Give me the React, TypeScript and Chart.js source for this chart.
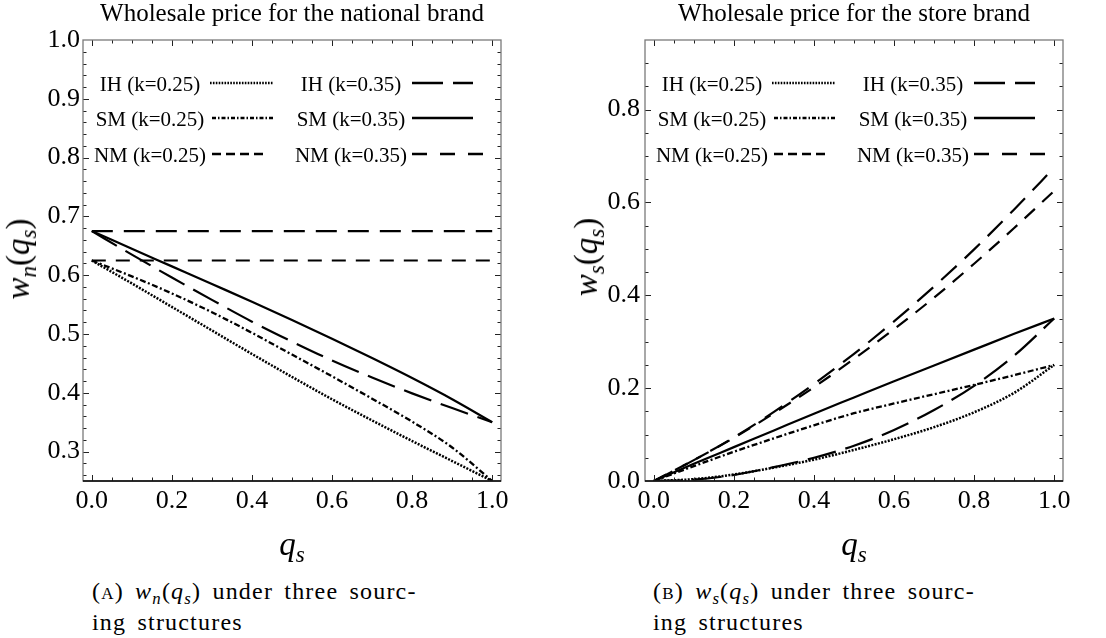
import React, { useEffect, useRef } from "react";
import { Chart, registerables } from "chart.js";

Chart.register(...registerables);

// ---------------- data ----------------
const qs = [0, 0.1, 0.2, 0.3, 0.4, 0.5, 0.6, 0.7, 0.8, 0.9, 1.0];

// (A) wholesale price for the national brand, w_n(q_s)
const wnIH25 = [0.625, 0.586, 0.546, 0.506, 0.466, 0.427, 0.389, 0.353, 0.318, 0.284, 0.25];
const wnSM25 = [0.625, 0.598, 0.569, 0.537, 0.502, 0.465, 0.428, 0.39, 0.351, 0.307, 0.25];
const wnNM25 = [0.625, 0.625, 0.625, 0.625, 0.625, 0.625, 0.625, 0.625, 0.625, 0.625, 0.625];
const wnIH35 = [0.675, 0.635, 0.596, 0.558, 0.521, 0.487, 0.455, 0.426, 0.399, 0.374, 0.35];
const wnSM35 = [0.675, 0.645, 0.615, 0.585, 0.555, 0.524, 0.492, 0.459, 0.425, 0.389, 0.35];
const wnNM35 = [0.675, 0.675, 0.675, 0.675, 0.675, 0.675, 0.675, 0.675, 0.675, 0.675, 0.675];

// (B) wholesale price for the store brand, w_s(q_s)
const wsIH25 = [0, 0.004, 0.014, 0.029, 0.046, 0.067, 0.09, 0.116, 0.148, 0.19, 0.25];
const wsSM25 = [0, 0.032, 0.063, 0.092, 0.12, 0.146, 0.167, 0.187, 0.207, 0.228, 0.25];
const wsNM25 = [0, 0.045, 0.093, 0.146, 0.202, 0.263, 0.327, 0.395, 0.468, 0.545, 0.625];
const wsIH35 = [0, 0.003, 0.013, 0.03, 0.05, 0.076, 0.11, 0.153, 0.205, 0.27, 0.35];
const wsSM35 = [0, 0.037, 0.073, 0.109, 0.145, 0.18, 0.215, 0.249, 0.283, 0.317, 0.35];
const wsNM35 = [0, 0.045, 0.094, 0.149, 0.209, 0.274, 0.344, 0.419, 0.499, 0.585, 0.675];

const seriesLabels = [
  "IH (k=0.25)",
  "SM (k=0.25)",
  "NM (k=0.25)",
  "IH (k=0.35)",
  "SM (k=0.35)",
  "NM (k=0.35)",
];

const xTickValues = [0, 0.2, 0.4, 0.6, 0.8, 1.0];
const wnTickValues = [0.3, 0.4, 0.5, 0.6, 0.7, 0.8, 0.9, 1.0];
const wsTickValues = [0, 0.2, 0.4, 0.6, 0.8];

const titleA = "Wholesale price for the national brand";
const titleB = "Wholesale price for the store brand";

// ---------------- styles ----------------
const FONT = '"Liberation Serif", "Times New Roman", serif';
const LINE_DASH = [[2, 1.4], [6, 2.5, 2, 2.5], [14, 10], [29, 10], [], [21, 11]];
const LINE_WIDTH = [2.5, 2.3, 2.2, 2.2, 2.2, 2.2];
const LEGEND_DASH = [[1.6, 1.3], [4, 2, 1.5, 2], [9, 5], [31, 10], [], [15, 13]];
// legend layout relative to chart area (left, top)
const LEGEND_COL_CX = [67, 67, 67, 268, 268, 268];
const LEGEND_ROW_Y = [43, 78, 114, 43, 78, 114];
const LEGEND_X0 = [127, 129, 129, 329, 329, 329];
const LEGEND_X1 = [190, 190, 182, 390, 390, 400];

function range(a: number, b: number, step: number): number[] {
  const out: number[] = [];
  const n = Math.round((b - a) / step);
  for (let i = 0; i <= n; i++) out.push(+(a + i * step).toFixed(4));
  return out;
}

const frameTicksPlugin = {
  id: "frameTicks",
  afterDraw(chart: any, _args: any, opts: any) {
    const { ctx, chartArea: a, scales } = chart;
    const xs = scales.x;
    const ys = scales.y;
    const isMajor = (list: number[], v: number) => list.some((m) => Math.abs(m - v) < 1e-6);
    ctx.save();
    ctx.lineWidth = 1;
    ctx.strokeStyle = "#222";
    ctx.beginPath();
    for (const v of opts.xMinor) {
      const px = Math.round(xs.getPixelForValue(v)) + 0.5;
      const len = isMajor(opts.xMajor, v) ? 6 : 3.5;
      ctx.moveTo(px, a.bottom);
      ctx.lineTo(px, a.bottom - len);
      ctx.moveTo(px, a.top);
      ctx.lineTo(px, a.top + len);
    }
    for (const v of opts.yMinor) {
      const py = Math.round(ys.getPixelForValue(v)) + 0.5;
      if (py < a.top + 1 || py > a.bottom - 1) continue;
      const len = isMajor(opts.yMajor, v) ? 6 : 3.5;
      ctx.moveTo(a.left, py);
      ctx.lineTo(a.left + len, py);
      ctx.moveTo(a.right, py);
      ctx.lineTo(a.right - len, py);
    }
    ctx.stroke();
    ctx.strokeStyle = "#7a7a7a";
    ctx.lineWidth = 1.3;
    ctx.strokeRect(a.left, a.top, a.right - a.left, a.bottom - a.top);
    ctx.strokeStyle = "#000";
    ctx.beginPath();
    ctx.moveTo(a.left, a.bottom);
    ctx.lineTo(a.right, a.bottom);
    ctx.stroke();
    ctx.restore();
  },
};

const legendPlugin = {
  id: "gridLegend",
  afterDraw(chart: any) {
    const { ctx, chartArea: a } = chart;
    ctx.save();
    ctx.font = `21px ${FONT}`;
    ctx.textAlign = "center";
    ctx.textBaseline = "middle";
    ctx.fillStyle = "#000";
    ctx.strokeStyle = "#000";
    seriesLabels.forEach((label, i) => {
      const cy = a.top + LEGEND_ROW_Y[i];
      ctx.fillText(label, a.left + LEGEND_COL_CX[i], cy + 2);
      ctx.lineWidth = i === 0 ? 2.6 : 2.4;
      ctx.setLineDash(LEGEND_DASH[i]);
      ctx.beginPath();
      ctx.moveTo(a.left + LEGEND_X0[i], cy);
      ctx.lineTo(a.left + LEGEND_X1[i], cy);
      ctx.stroke();
    });
    ctx.restore();
  },
};

type Spec = {
  left: number;
  width: number;
  height: number;
  axisWidth: number;
  padRight: number;
  yMin: number;
  yMax: number;
  yTicks: number[];
  yMinor: number[];
  yPad: number;
  series: number[][];
};

function WholesaleChart({ spec }: { spec: Spec }) {
  const ref = useRef<HTMLCanvasElement | null>(null);
  useEffect(() => {
    if (!ref.current) return;
    const datasets = spec.series.map((arr, i) => ({
      label: seriesLabels[i],
      data: qs.map((q, j) => ({ x: q, y: arr[j] })),
      borderColor: "#000",
      borderWidth: LINE_WIDTH[i],
      borderDash: LINE_DASH[i],
      borderCapStyle: "butt" as const,
      pointRadius: 0,
      fill: false,
      cubicInterpolationMode: "monotone" as const,
    }));
    const tickFont = { family: FONT, size: 26 };
    const chart = new Chart(ref.current, {
      type: "line",
      data: { datasets },
      options: {
        animation: false,
        responsive: false,
        maintainAspectRatio: false,
        layout: { padding: { left: 0, top: 40, right: spec.padRight, bottom: spec.height - 481 - 40 } },
        plugins: {
          legend: { display: false },
          tooltip: { enabled: false },
          frameTicks: {
            xMajor: xTickValues,
            xMinor: range(0, 1, 0.05),
            yMajor: spec.yTicks,
            yMinor: spec.yMinor,
          },
        } as any,
        scales: {
          x: {
            type: "linear",
            min: -0.022,
            max: 1.022,
            afterBuildTicks: (s: any) => {
              s.ticks = xTickValues.map((v) => ({ value: v }));
            },
            afterFit: (s: any) => {
              s.height = 40;
            },
            grid: { display: false, drawTicks: false },
            border: { display: false },
            ticks: {
              autoSkip: false,
              maxRotation: 0,
              padding: 5,
              color: "#000",
              font: tickFont,
              callback: (v: any) => Number(v).toFixed(1),
            },
          },
          y: {
            type: "linear",
            min: spec.yMin,
            max: spec.yMax,
            afterBuildTicks: (s: any) => {
              s.ticks = spec.yTicks.map((v) => ({ value: v }));
            },
            afterFit: (s: any) => {
              s.width = spec.axisWidth;
            },
            grid: { display: false, drawTicks: false },
            border: { display: false },
            ticks: {
              autoSkip: false,
              padding: spec.yPad,
              color: "#000",
              font: tickFont,
              callback: (v: any) => Number(v).toFixed(1),
            },
          },
        },
      },
      plugins: [frameTicksPlugin, legendPlugin],
    });
    return () => chart.destroy();
  }, []);
  return (
    <canvas
      ref={ref}
      width={spec.width}
      height={spec.height}
      style={{ position: "absolute", left: spec.left, top: 0, width: spec.width, height: spec.height }}
    />
  );
}

const sub: React.CSSProperties = { fontSize: "0.7em", position: "relative", top: "0.3em", fontStyle: "italic" };

function MathLabel({ main, idx }: { main: string; idx: string }) {
  return (
    <>
      <i>{main}</i>
      <span style={sub}>{idx}</span>
    </>
  );
}

function Caption({ left, letter, idx }: { left: number; letter: string; idx: string }) {
  const line: React.CSSProperties = {
    position: "absolute",
    left,
    fontFamily: FONT,
    fontSize: 24,
    lineHeight: "24px",
    letterSpacing: "1.2px",
    wordSpacing: "4px",
    whiteSpace: "nowrap",
    color: "#000",
  };
  return (
    <>
      <div style={{ ...line, top: 579 }}>
        (<span style={{ fontVariant: "small-caps" }}>{letter}</span>){" "}
        <MathLabel main="w" idx={idx} />(<MathLabel main="q" idx="s" />) under three sourc-
      </div>
      <div style={{ ...line, top: 610 }}>ing structures</div>
    </>
  );
}

export default function App() {
  const specA: Spec = {
    left: 0,
    width: 553,
    height: 540,
    axisWidth: 83,
    padRight: 52,
    yMin: 0.25,
    yMax: 1.0,
    yTicks: wnTickValues,
    yMinor: range(0.26, 1.0, 0.02),
    yPad: 3,
    series: [wnIH25, wnSM25, wnNM25, wnIH35, wnSM35, wnNM35],
  };
  const specB: Spec = {
    left: 553,
    width: 553,
    height: 540,
    axisWidth: 92,
    padRight: 43,
    yMin: 0,
    yMax: 0.95,
    yTicks: wsTickValues,
    yMinor: range(0, 0.95, 0.05),
    yPad: 5,
    series: [wsIH25, wsSM25, wsNM25, wsIH35, wsSM35, wsNM35],
  };
  const title: React.CSSProperties = {
    position: "absolute",
    top: 0,
    transform: "translateX(-50%)",
    fontFamily: FONT,
    fontSize: 25,
    lineHeight: "25px",
    whiteSpace: "nowrap",
    color: "#000",
  };
  const axisTitle: React.CSSProperties = {
    position: "absolute",
    fontFamily: FONT,
    fontSize: 33,
    lineHeight: "33px",
    whiteSpace: "nowrap",
    color: "#000",
  };
  return (
    <div
      style={{
        position: "fixed",
        left: 0,
        top: 0,
        width: 1106,
        height: 638,
        background: "#fff",
        overflow: "hidden",
      }}
    >
      <WholesaleChart spec={specA} />
      <WholesaleChart spec={specB} />
      <div style={{ ...title, left: 292 }}>{titleA}</div>
      <div style={{ ...title, left: 854 }}>{titleB}</div>
      <div style={{ ...axisTitle, left: 20, top: 259, transform: "translate(-50%,-50%) rotate(-90deg)" }}>
        <MathLabel main="w" idx="n" />(<MathLabel main="q" idx="s" />)
      </div>
      <div style={{ ...axisTitle, left: 588, top: 257, transform: "translate(-50%,-50%) rotate(-90deg)" }}>
        <MathLabel main="w" idx="s" />(<MathLabel main="q" idx="s" />)
      </div>
      <div style={{ ...axisTitle, left: 292, top: 528, transform: "translateX(-50%)" }}>
        <MathLabel main="q" idx="s" />
      </div>
      <div style={{ ...axisTitle, left: 854, top: 528, transform: "translateX(-50%)" }}>
        <MathLabel main="q" idx="s" />
      </div>
      <Caption left={92} letter="a" idx="n" />
      <Caption left={653} letter="b" idx="s" />
    </div>
  );
}
